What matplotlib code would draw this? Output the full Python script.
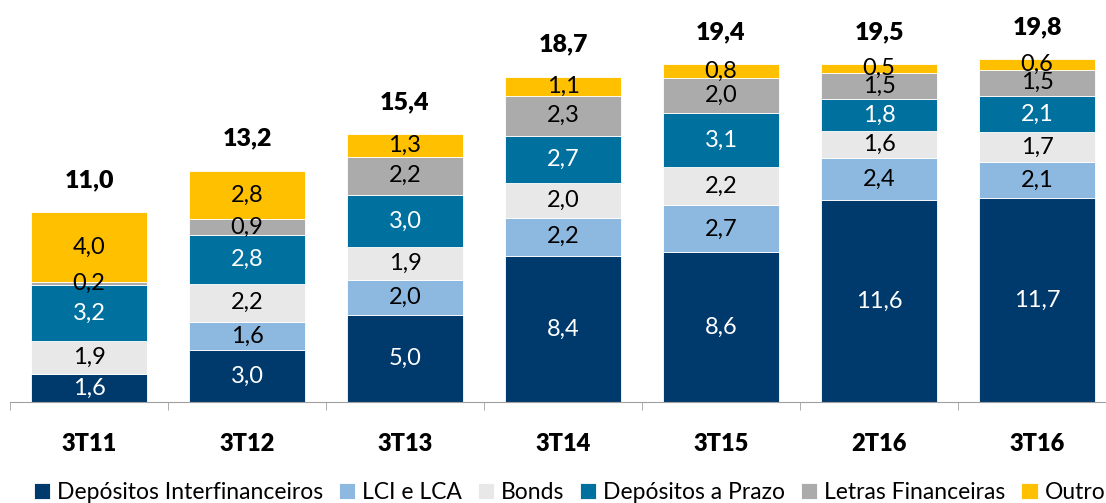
import numpy as np
import matplotlib.pyplot as plt

plt.rcParams['font.family'] = ['Lato', 'DejaVu Sans']

categories = ['3T11', '3T12', '3T13', '3T14', '3T15', '2T16', '3T16']
dep_interfin = [1.6, 3.0, 5.0, 8.4, 8.6, 11.6, 11.7]
lci_lca = [0.0, 1.6, 2.0, 2.2, 2.7, 2.4, 2.1]
bonds = [1.9, 2.2, 1.9, 2.0, 2.2, 1.6, 1.7]
dep_prazo = [3.2, 2.8, 3.0, 2.7, 3.1, 1.8, 2.1]
letras = [0.2, 0.9, 2.2, 2.3, 2.0, 1.5, 1.5]
outro = [4.0, 2.8, 1.3, 1.1, 0.8, 0.5, 0.6]
totals = [11.0, 13.2, 15.4, 18.7, 19.4, 19.5, 19.8]

series = [
    ('Depósitos Interfinanceiros', dep_interfin, '#003A6C', 'white'),
    ('LCI e LCA', lci_lca, '#8DB8DF', 'black'),
    ('Bonds', bonds, '#E8E8E8', 'black'),
    ('Depósitos a Prazo', dep_prazo, '#00709E', 'white'),
    ('Letras Financeiras', letras, '#ABABAB', 'black'),
    ('Outro', outro, '#FFC000', 'black'),
]

fig = plt.figure(figsize=(11.06, 5.03), dpi=100)
ax = fig.add_axes([10 / 1106, 101 / 503, 1106 / 1106, 402 / 503])

x = np.arange(len(categories))
bottom = np.zeros(len(categories))
for name, vals, color, tcolor in series:
    vals = np.array(vals)
    ax.bar(x, vals, 0.73, bottom=bottom, color=color, label=name,
           edgecolor='white', linewidth=0.6)
    for xi, b, v in zip(x, bottom, vals):
        if v > 0:
            ax.text(xi, b + v / 2, f'{v:.1f}'.replace('.', ','), ha='center',
                    va='center', fontsize=17, color=tcolor)
    bottom += vals

for xi, top, t in zip(x, bottom, totals):
    ax.annotate(f'{t:.1f}'.replace('.', ','), (xi, top), xytext=(0, 23),
                textcoords='offset points', ha='center', va='center',
                fontsize=18, fontweight='heavy')

ax.set_xlim(-0.5, 6.5)
ax.set_ylim(0, 23.1)
for s in ['top', 'right', 'left']:
    ax.spines[s].set_visible(False)
ax.spines['bottom'].set_color('#A0A0A0')
ax.set_yticks([])
ax.set_xticks(x)
ax.set_xticklabels(categories, fontsize=17, fontweight='heavy')
ax.tick_params(axis='x', which='major', length=0, pad=22)
ax.set_xticks(np.arange(-0.5, 7, 1), minor=True)
ax.tick_params(axis='x', which='minor', length=6, color='#A0A0A0')

fig.legend(loc='center', bbox_to_anchor=(0.515, 0.02), ncol=6, frameon=False,
           fontsize=16.5, handlelength=0.7, handleheight=0.7, handletextpad=0.3,
           columnspacing=0.7, borderaxespad=0)

fig.savefig('out.png', dpi=100)
